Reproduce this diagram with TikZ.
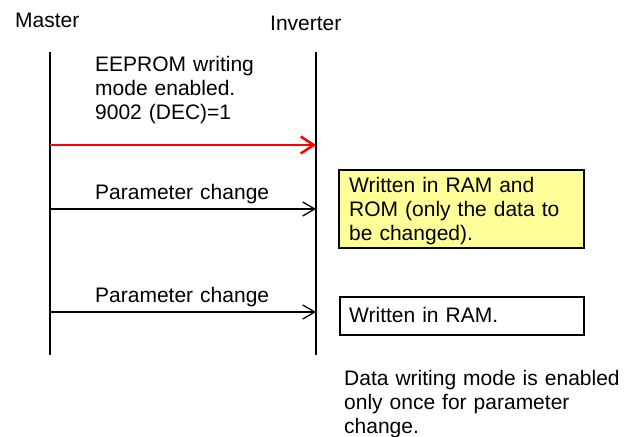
\documentclass[tikz,border=0pt]{standalone}
\usepackage{fontspec}
\setmainfont{Liberation Sans}
\usetikzlibrary{arrows.meta}
\definecolor{boxyellow}{HTML}{FFFF99}
\definecolor{msgred}{HTML}{FF0000}
\tikzset{
  txt/.style={inner sep=0pt, anchor=base west, align=left, text width=300pt,
    font=\fontsize{21}{24}\selectfont},
  lifeline/.style={line width=1.3pt, black},
  msg/.style={line width=1.3pt, black, -{Straight Barb[length=12pt,width=14pt,line width=1.3pt]}},
  redmsg/.style={line width=2.5pt, msgred, -{Straight Barb[length=13pt,width=17pt,line width=2.5pt]}},
  ybox/.style={draw=black, line width=1.6pt, fill=boxyellow, inner sep=0pt, anchor=north west},
  wbox/.style={draw=black, line width=1.6pt, fill=white, inner sep=0pt, anchor=north west},
}
\begin{document}
\begin{tikzpicture}[x=1pt,y=-1pt]
\useasboundingbox (0,0) rectangle (631,436);
% headers
\node[txt] (master) at (15,28) {Master};
\node[txt] (inverter) at (270,31) {Inverter};
% lifelines
\coordinate (mtop) at (50,52);
\coordinate (mbot) at (50,355);
\coordinate (itop) at (316,52);
\coordinate (ibot) at (316,355);
\draw[lifeline] (mtop) -- (mbot);
\draw[lifeline] (itop) -- (ibot);
% message 1
\node[txt] (eeprom) at (95,71) {EEPROM writing\\mode enabled.\\9002 (DEC)=1};
\coordinate (m1) at (50,145);
\coordinate (i1) at (316,145);
\draw[redmsg] (m1) -- (i1);
% message 2
\node[txt] (pc1) at (95,199) {Parameter change};
\coordinate (m2) at (50,209);
\coordinate (i2) at (316,209);
\draw[msg] (m2) -- (i2);
% message 3
\node[txt] (pc2) at (95,302) {Parameter change};
\coordinate (m3) at (50,312);
\coordinate (i3) at (316,312);
\draw[msg] (m3) -- (i3);
% boxes
\node[ybox, minimum width=245pt, minimum height=78pt] (rombox) at (338,169) {};
\node[txt] (romtext) at (349,192) {Written in RAM and\\ROM (only the data to\\be changed).};
\node[wbox, minimum width=244pt, minimum height=38pt] (rambox) at (339,296) {};
\node[txt] (ramtext) at (349,322) {Written in RAM.};
% note
\node[txt] (note) at (344,385) {Data writing mode is enabled\\only once for parameter\\change.};
\end{tikzpicture}
\end{document}
